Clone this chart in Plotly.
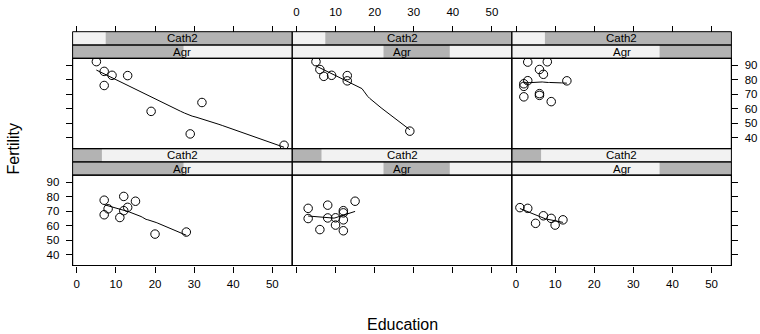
import numpy as np
import plotly.graph_objects as go

# ---- data (swiss districts) ----
education = [12, 9, 5, 7, 15, 7, 7, 8, 7, 13, 6, 12, 7, 12, 5, 2, 8, 28, 20, 9, 10, 3, 12, 6,
             1, 8, 3, 10, 19, 8, 2, 6, 2, 6, 3, 9, 3, 13, 12, 11, 13, 32, 7, 7, 53, 29, 29]
fertility = [80.2, 83.1, 92.5, 85.8, 76.9, 76.1, 83.8, 92.4, 82.4, 82.9, 87.1, 64.1, 66.9, 68.9,
             61.7, 68.3, 71.7, 55.7, 54.3, 65.1, 65.5, 65.0, 56.6, 57.4, 72.5, 74.2, 72.0, 60.5,
             58.3, 65.4, 75.5, 69.3, 77.3, 70.5, 79.4, 65.0, 92.2, 79.3, 70.4, 65.7, 72.7, 64.4,
             77.6, 67.6, 35.0, 44.7, 42.8]
agriculture = [17.0, 45.1, 39.7, 36.5, 43.5, 35.3, 70.2, 67.8, 53.3, 45.2, 64.5, 62.0, 67.5, 60.7,
               69.3, 72.6, 34.0, 19.4, 15.2, 73.0, 59.8, 55.1, 50.9, 54.1, 71.2, 58.1, 63.5, 60.8,
               26.8, 49.5, 85.9, 84.9, 89.7, 78.2, 64.9, 75.9, 84.6, 63.1, 38.4, 7.7, 16.7, 17.6,
               37.6, 18.7, 1.2, 46.6, 27.7]
catholic = [9.96, 84.84, 93.40, 33.77, 5.16, 90.57, 92.85, 97.16, 97.67, 91.38, 98.61, 8.52, 2.27,
            4.43, 2.82, 24.20, 3.30, 12.11, 2.15, 2.84, 5.23, 4.52, 15.14, 4.20, 2.40, 5.23, 2.56,
            7.72, 18.46, 6.10, 99.71, 99.68, 100.00, 98.96, 98.22, 99.06, 99.46, 96.83, 5.62,
            13.79, 11.22, 16.92, 4.97, 8.65, 42.34, 50.43, 58.33]

# shingle levels
agr_lo = [1.2, 38.0, 60.75]
agr_hi = [45.9, 64.7, 89.7]
cath_lo = [2.15, 16.9]
cath_hi = [15.2, 100.0]

x_ticks = [0, 10, 20, 30, 40, 50]
y_ticks = [40, 50, 60, 70, 80, 90]

# ---- local linear smoother (tricube weights) ----
def loess_curve(x, y, span=1.2, iterations=1, n_eval=50):
    x = np.asarray(x, float); y = np.asarray(y, float)
    n = len(x); q = min(n, int(np.floor(n * span)))

    def fit_at(x0, rw):
        d = np.abs(x - x0)
        h = max(np.sort(d)[q - 1], 1e-9) * max(1.0, span)
        u = d / h
        w = np.where(u < 1, (1 - u ** 3) ** 3, 0.0) * rw
        sw = w.sum()
        xm = (w * x).sum() / sw; ym = (w * y).sum() / sw
        sxx = (w * (x - xm) ** 2).sum()
        b = (w * (x - xm) * (y - ym)).sum() / sxx if sxx > 1e-12 else 0.0
        return ym + b * (x0 - xm)

    rw = np.ones(n)
    for it in range(iterations):
        fitted = np.array([fit_at(v, rw) for v in x])
        if it < iterations - 1:
            res = y - fitted
            s = np.median(np.abs(res))
            if s <= 0:
                break
            u = res / (6 * s)
            rw = np.where(np.abs(u) < 1, (1 - u ** 2) ** 2, 0.0)
    xs = np.linspace(x.min(), x.max(), n_eval)
    return xs, np.array([fit_at(v, rw) for v in xs])

# ---- layout geometry (px) ----
W, H = 760, 334
X0, PW = 72.6, 219.6
ROW_TOP = {1: 31.7, 0: 148.6}   # row 1 = top, row 0 = bottom
SH, PH = 13.3, 90.3

def px(v): return v / W
def py(v): return 1 - v / H

edu = np.array(education); fer = np.array(fertility)
agr = np.array(agriculture); cat = np.array(catholic)
agr_min, agr_max = agr.min(), agr.max()
cat_min, cat_max = cat.min(), cat.max()

xr = [edu.min() - 0.04 * (edu.max() - edu.min()), edu.max() + 0.04 * (edu.max() - edu.min())]
yr = [fer.min() - 0.04 * (fer.max() - fer.min()), fer.max() + 0.04 * (fer.max() - fer.min())]

FONT = "Liberation Sans, Arial, sans-serif"
LIGHT, DARK = "#f2f2f2", "#b3b3b3"
TF = 11.5

fig = go.Figure()
layout = dict(width=W, height=H, margin=dict(l=0, r=0, t=0, b=0),
              paper_bgcolor="white", plot_bgcolor="white", showlegend=False,
              font=dict(family=FONT, size=TF, color="black"))
shapes, annotations = [], []

k = 0
for row in (0, 1):
    for col in range(3):
        k += 1
        sfx = "" if k == 1 else str(k)
        xl, xrp = X0 + col * PW, X0 + (col + 1) * PW
        st = ROW_TOP[row]
        s_mid = st + SH
        p_top = st + 2 * SH
        p_bot = p_top + PH

        sel = ((agr >= agr_lo[col]) & (agr <= agr_hi[col]) &
               (cat >= cath_lo[row]) & (cat <= cath_hi[row]))
        xs_, ys_ = edu[sel], fer[sel]
        lx, ly = loess_curve(xs_, ys_)
        fig.add_trace(go.Scatter(x=lx, y=ly, mode="lines", xaxis="x" + sfx, yaxis="y" + sfx,
                                 line=dict(color="black", width=1), hoverinfo="skip"))
        fig.add_trace(go.Scatter(x=xs_, y=ys_, mode="markers", xaxis="x" + sfx, yaxis="y" + sfx,
                                 marker=dict(symbol="circle-open", size=8.5, color="black",
                                             line=dict(width=1, color="black"))))

        xa = dict(domain=[px(xl), px(xrp)], range=xr, tickvals=x_ticks, ticks="outside",
                  ticklen=6, tickwidth=1, tickcolor="black", showgrid=False, zeroline=False,
                  showline=False, tickfont=dict(size=TF, color="black"))
        if row == 0:
            xa.update(side="bottom", anchor="y" + sfx, showticklabels=(col != 1),
                      ticklabelstandoff=2)
        else:
            xa.update(side="top", anchor="free", position=py(st), showticklabels=(col == 1),
                      ticklabelstandoff=5)
        ya = dict(domain=[py(p_bot), py(p_top)], range=yr, tickvals=y_ticks, showgrid=False,
                  zeroline=False, showline=False, anchor="x" + sfx,
                  tickfont=dict(size=TF, color="black"))
        if col == 0:
            ya.update(side="left", ticks="outside", ticklen=6, tickcolor="black",
                      showticklabels=(row == 0), ticklabelstandoff=4)
        elif col == 2:
            ya.update(side="right", ticks="outside", ticklen=6, tickcolor="black",
                      showticklabels=(row == 1), ticklabelstandoff=4)
        else:
            ya.update(ticks="", showticklabels=False)
        layout["xaxis" + sfx] = xa
        layout["yaxis" + sfx] = ya

        # strips: Cath2 (upper), Agr (lower)
        for (y0, y1, lo, hi, vmin, vmax, label) in [
                (st, s_mid, cath_lo[row], cath_hi[row], cat_min, cat_max, "Cath2"),
                (s_mid, p_top, agr_lo[col], agr_hi[col], agr_min, agr_max, "Agr")]:
            shapes.append(dict(type="rect", xref="paper", yref="paper", x0=px(xl), x1=px(xrp),
                               y0=py(y1), y1=py(y0), fillcolor=LIGHT, line=dict(width=0),
                               layer="below"))
            f0 = max(0, (lo - vmin) / (vmax - vmin)); f1 = min(1, (hi - vmin) / (vmax - vmin))
            shapes.append(dict(type="rect", xref="paper", yref="paper",
                               x0=px(xl + f0 * PW), x1=px(xl + f1 * PW),
                               y0=py(y1), y1=py(y0), fillcolor=DARK, line=dict(width=0),
                               layer="below"))
            shapes.append(dict(type="rect", xref="paper", yref="paper", x0=px(xl), x1=px(xrp),
                               y0=py(y1), y1=py(y0), line=dict(color="black", width=1)))
            annotations.append(dict(text=label, xref="paper", yref="paper",
                                    x=px((xl + xrp) / 2), y=py((y0 + y1) / 2),
                                    showarrow=False, font=dict(size=TF, color="black"),
                                    xanchor="center", yanchor="middle"))
        shapes.append(dict(type="rect", xref="paper", yref="paper", x0=px(xl), x1=px(xrp),
                           y0=py(p_bot), y1=py(p_top), line=dict(color="black", width=1.2)))

annotations.append(dict(text="Fertility", xref="paper", yref="paper", x=px(13), y=py(148.5),
                        textangle=-90, showarrow=False, font=dict(size=16, color="black"),
                        xanchor="center", yanchor="middle"))
annotations.append(dict(text="Education", xref="paper", yref="paper", x=px(402), y=py(324.5),
                        showarrow=False, font=dict(size=16, color="black"),
                        xanchor="center", yanchor="middle"))

layout["shapes"] = shapes
layout["annotations"] = annotations
fig.update_layout(**layout)
fig.write_html("out.html")
